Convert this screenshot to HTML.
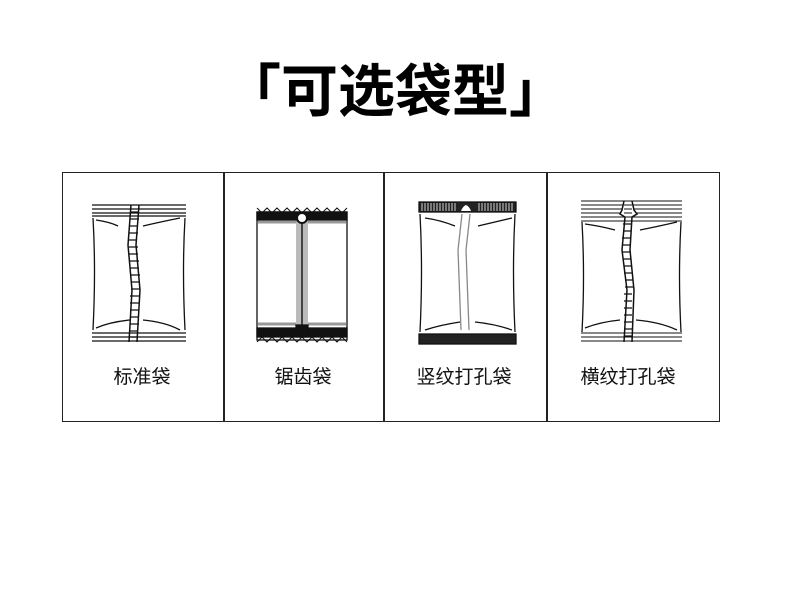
<!DOCTYPE html>
<html><head><meta charset="utf-8"><style>
html,body{margin:0;padding:0;background:#fff;}
body{width:790px;height:597px;position:relative;overflow:hidden;font-family:"Liberation Sans","Noto Sans CJK SC",sans-serif;}
.title{position:absolute;left:0;width:790px;top:52px;text-align:center;font-size:57px;font-weight:bold;line-height:80px;color:#000;}
.box{position:absolute;left:62px;top:172px;width:656px;height:248px;border:1.5px solid #222;}
.div{position:absolute;top:172px;height:250px;width:1.5px;background:#222;}
.lbl{position:absolute;top:362px;font-size:19px;color:#111;text-align:center;width:160px;}
</style></head><body>
<div class="title">「可选袋型」</div>
<div class="box"></div>
<div class="div" style="left:223px"></div>
<div class="div" style="left:383px"></div>
<div class="div" style="left:546px"></div>
<div class="lbl" style="left:62px">标准袋</div>
<div class="lbl" style="left:223px">锯齿袋</div>
<div class="lbl" style="left:384px">竖纹打孔袋</div>
<div class="lbl" style="left:548px">横纹打孔袋</div>
<svg width="790" height="597" style="position:absolute;left:0;top:0" fill="none" stroke="#111" stroke-width="1.3">
<!-- bag1 -->
<g>
<path d="M92 205 H186 M92 209 H186 M92 213 H186 M92 216 H186"/>
<path d="M92 333 H186 M92 337 H186 M92 341 H186"/>
<path d="M93 218 Q96 270 93 330 M185 218 Q182 270 185 330"/>
<path d="M96 220 Q110 222 118 226 M143 226 Q160 222 180 218 M96 328 Q110 322 130 320 M143 320 Q165 322 180 330"/>
<path d="M131 205 L128 245 L132 290 L129 342 M139 205 L136 245 L140 290 L137 342" stroke-width="1.5"/>
<path d="M130 212H139M130 219H139M129 226H138M129 233H138M128 240H137M129 247H138M129 254H138M130 261H139M130 268H139M131 275H140M131 282H140M131 289H140M130 296H139M130 303H139M130 310H139M130 317H139M130 324H139M129 331H138M129 337H138"/>
</g>
<!-- bag2 -->
<g>
<rect x="257" y="212" width="90" height="128"/>
<rect x="257" y="212" width="90" height="8" fill="#111"/>
<rect x="257" y="328" width="90" height="9" fill="#111"/>
<path d="M257 208 L262 213 L267 208 L272 213 L277 208 L282 213 L287 208 L292 213 L297 208 L302 213 L307 208 L312 213 L317 208 L322 213 L327 208 L332 213 L337 208 L342 213 L347 208" stroke-width="1"/>
<path d="M257 342 L262 337 L267 342 L272 337 L277 342 L282 337 L287 342 L292 337 L297 342 L302 337 L307 342 L312 337 L317 342 L322 337 L327 342 L332 337 L337 342 L342 337 L347 342" stroke-width="1"/>
<path d="M258 222 H346 M258 324 H346" stroke="#999" stroke-width="3"/>
<rect x="296" y="222" width="12" height="104" fill="#bbb" stroke="none"/>
<path d="M302 222 V326" stroke="#444" stroke-width="2"/>
<rect x="296" y="325" width="12" height="12" fill="#111"/>
<circle cx="302" cy="218" r="5" fill="#fff" stroke="#111" stroke-width="2"/>
</g>
<!-- bag3 -->
<g>
<rect x="419" y="202" width="97" height="10" fill="#222"/>
<path d="M422 203V211M425 203V211M428 203V211M431 203V211M434 203V211M437 203V211M440 203V211M443 203V211M446 203V211M449 203V211M452 203V211M455 203V211M479 203V211M482 203V211M485 203V211M488 203V211M491 203V211M494 203V211M497 203V211M500 203V211M503 203V211M506 203V211M509 203V211M512 203V211" stroke="#fff" stroke-width="0.8"/>
<path d="M461 211 Q463 206 466 205 Q469 206 471 211 Z" fill="#fff" stroke="none"/>
<rect x="419" y="334" width="97" height="10" fill="#222"/>
<path d="M420 214 Q423 270 420 332 M515 214 Q512 270 515 332"/>
<path d="M425 218 Q440 220 455 226 M478 226 Q495 222 512 218 M425 330 Q440 325 460 322 M475 322 Q495 324 512 330"/>
<path d="M462 214 L458 250 L461 330 M470 214 L466 250 L469 330" stroke="#888"/>
</g>
<!-- bag4 -->
<g>
<path d="M581 201H682M581 205H682M581 209H682M581 213H682M581 217H682M581 221H682" stroke-width="1"/>
<path d="M581 333H682M581 337H682M581 341H682" stroke-width="1"/>
<path d="M582 222 Q585 275 582 332 M681 222 Q678 275 681 332"/>
<path d="M585 224 Q600 226 615 230 M640 230 Q660 226 677 222 M585 328 Q600 322 620 320 M636 320 Q660 322 677 330"/>
<path d="M624 201 L622 210 L620 214 L625 217 L622 250 L627 290 L624 342 M632 201 L634 210 L637 214 L632 217 L630 250 L634 290 L632 342" stroke-width="1.5" fill="#fff"/>
<path d="M623 224H631M623 231H631M622 238H630M622 245H630M623 252H631M623 259H631M624 266H632M624 273H632M625 280H633M625 287H633M624 294H632M624 301H632M624 308H632M624 315H632M624 322H632M624 329H632M624 336H632"/>
</g>
</svg>
</body></html>
